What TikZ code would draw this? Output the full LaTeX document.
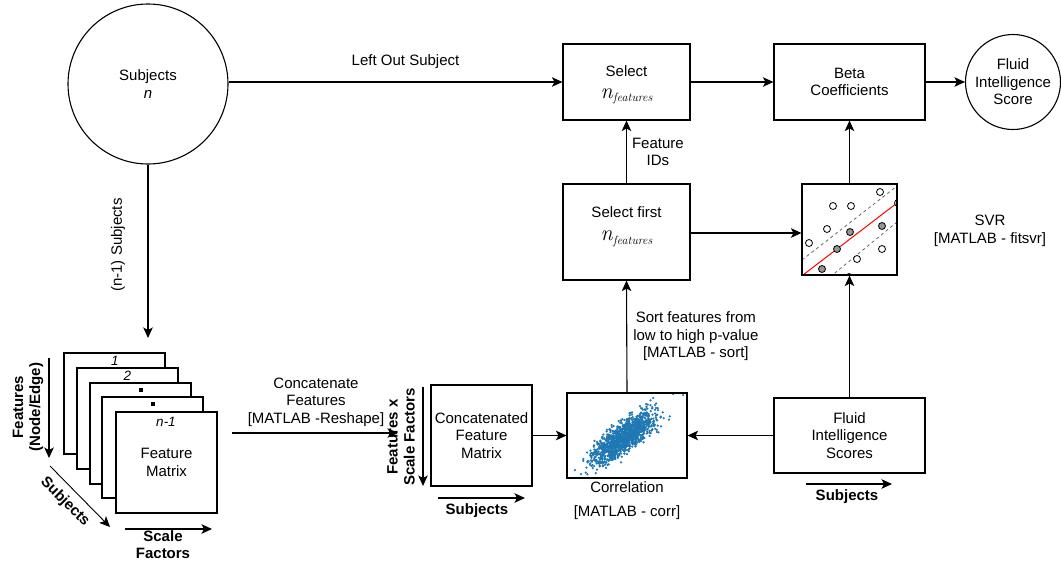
\documentclass[tikz,border=0pt]{standalone}
\usepackage{fontspec}
\setmainfont{Liberation Sans}
\newfontfamily\lmrfont{Latin Modern Roman}
\usetikzlibrary{arrows.meta,calc}
\definecolor{scat}{RGB}{31,119,180}
\definecolor{dotgray}{RGB}{150,150,150}
\newcommand{\nfeat}{{\lmrfont\itshape\fontsize{22}{22}\selectfont n\kern0.5pt\raisebox{-3.5pt}{\fontsize{12}{12}\selectfont features}}}
\begin{document}
\begin{tikzpicture}[x=1pt,y=-1pt,
  font=\fontsize{15}{17.5}\selectfont,
  line width=1.1pt,
  box/.style={draw, rectangle, inner sep=0pt, align=center},
  lbl/.style={align=center, inner sep=0pt},
  blbl/.style={align=center, inner sep=0pt, font=\fontsize{15}{17}\selectfont\bfseries},
  arr/.style={-{Stealth[length=10.5pt,width=9.5pt,inset=2.5pt]}},
  svrdot/.style={draw, line width=0.8pt, fill=#1},
]
\useasboundingbox (0,0) rectangle (1061,560);

% ---- main nodes
\node[draw, circle, minimum size=160pt, inner sep=0pt, align=center] (subj) at (148,84) {Subjects\\\textit{n}};
\node[box, minimum width=127pt, minimum height=76pt] (sel) at (626.5,82) {};
\node[lbl] (seltxt) at (626.5,85) {Select\\[4pt]\nfeat};
\node[box, minimum width=151pt, minimum height=76pt] (beta) at (849.5,82) {Beta\\Coefficients};
\node[draw, circle, minimum size=95pt, inner sep=0pt, align=center] (fis2) at (1013,82) {Fluid\\Intelligence\\Score};
\node[box, minimum width=127pt, minimum height=96pt] (selfirst) at (626.5,232) {};
\node[lbl] (selfirsttxt) at (626.5,226.5) {Select first\\[6pt]\nfeat};
\node[box, minimum width=95pt, minimum height=91pt] (svr) at (849.5,229.5) {};
\node[box, minimum width=120pt, minimum height=85pt] (corr) at (627,435.5) {};
\node[box, minimum width=151pt, minimum height=75pt] (fis) at (849.5,435.5) {Fluid\\Intelligence\\Scores};
\node[box, minimum width=101pt, minimum height=101pt] (concat) at (481.5,435.5) {Concatenated\\Feature\\Matrix};

% ---- stack of feature matrices
\node[box, minimum width=101pt, minimum height=101pt, fill=white] (m1) at (114.5,403.5) {};
\node[box, minimum width=101pt, minimum height=101pt, fill=white] (m2) at (127.5,418.5) {};
\node[box, minimum width=101pt, minimum height=101pt, fill=white] (m3) at (140.5,433.5) {};
\node[box, minimum width=101pt, minimum height=101pt, fill=white] (m4) at (152.5,447.5) {};
\node[box, minimum width=101pt, minimum height=101pt, fill=white] (m5) at (166.5,462.5) {Feature\\Matrix};
\node[lbl, font=\fontsize{13.5}{15}\selectfont\itshape] (l1) at (115,361) {1};
\node[lbl, font=\fontsize{13.5}{15}\selectfont\itshape] (l2) at (127.5,376) {2};
\fill (138.5,388) rectangle (142.5,392);
\fill (150.5,402) rectangle (154.5,406);
\node[lbl, font=\fontsize{13.5}{15}\selectfont\itshape] (l5) at (166,422) {n-1};

% ---- SVR plot
\begin{scope}
  \clip (svr.south west) rectangle (svr.north east);
  \draw[gray!80!black, line width=0.8pt, dashed] (802,260) -- (897,186);
  \draw[gray!80!black, line width=0.8pt, dashed] (830,277) -- (897,222);
  \draw[red, line width=1pt] (803,275) -- (897,203);
  \foreach \p in {(880,192),(833,206),(851,206),(827,229),(809,243),(882,249),(857,259),(849,277),(898,203)}
    \draw[svrdot=white] \p circle (3.5pt);
  \foreach \p in {(850,232),(882,226),(837,249),(822,269)}
    \draw[svrdot=dotgray] \p circle (3.5pt);
\end{scope}
\node[box, minimum width=95pt, minimum height=91pt] at (svr) {};

% ---- correlation scatter
\begin{scope}
  \clip (corr.south west) rectangle (corr.north east);
  \pgfmathsetseed{42}
  \foreach \i in {1,...,1300}{
    \pgfmathsetmacro\tt{19*(rand+rand+rand)}
    \pgfmathsetmacro\ss{6.5*(rand+rand+rand)}
    \fill[scat] ({624+0.79*\tt+0.62*\ss},{437-0.62*\tt+0.79*\ss}) circle (1.25pt);
  }
  \fill[scat] (683,395) circle (1.25pt);
  \fill[scat] (673,394) circle (1.25pt);
  \fill[scat] (575,470) circle (1.25pt);
  \fill[scat] (581,474) circle (1.25pt);
\end{scope}
\node[box, minimum width=120pt, minimum height=85pt] at (corr) {};

% ---- text labels
\node[lbl] (svrlbl) at (990,231) {SVR\\{}[MATLAB - fitsvr]};
\node[lbl, anchor=north] (corrlbl) at ([yshift=-3pt]corr.south) {Correlation\\[6pt]{}[MATLAB - corr]};
\node[lbl] (catlbl) at (316,402) {Concatenate\\Features\\{}[MATLAB -Reshape]};
\node[lbl, rotate=90] (nm1) at (118,245) {(n-1) Subjects};
\node[blbl, rotate=90] (featlbl) at (28,407) {Features\\(Node/Edge)};
\node[blbl, rotate=-45] (subjdiag) at (65,502) {Subjects};
\node[blbl] (scalelbl) at (163,545) {Scale\\Factors};
\node[blbl, rotate=90] (fxs) at (401,437) {Features x\\Scale Factors};
\node[blbl] (subjc) at (477,511) {Subjects};
\node[blbl] (subjf) at (847,497) {Subjects};

% ---- free-end coordinates
\coordinate (stacktop) at (148,338);
\coordinate (catA) at (232,433);
\coordinate (catB) at (398,433);
\coordinate (fA) at (49,358);
\coordinate (fB) at (49,458);
\coordinate (dA) at (50,466);
\coordinate (dB) at (110,527);
\coordinate (sA) at (125,529);
\coordinate (sB) at (212,529);
\coordinate (cvA) at (423,387);
\coordinate (cvB) at (423,486);
\coordinate (chA) at (438,498);
\coordinate (chB) at (525,498);
\coordinate (fhA) at (806,484);
\coordinate (fhB) at (892,484);

% ---- connectors
\draw[arr] (subj.east |- sel.west) -- node[above=13pt, pos=0.53, inner sep=0pt] {Left Out Subject} (sel.west);
\draw[arr] (sel.east) -- (beta.west);
\draw[arr] (beta.east) -- (fis2.west);
\draw[arr] (selfirst.north) -- node[right=5pt, lbl] {Feature\\IDs} (sel.south);
\draw[arr] (selfirst.east |- 0,233) -- (svr.west |- 0,233);
\draw[arr] (svr.north) -- (beta.south);
\draw[arr] (fis.north) -- (svr.south);
\draw[arr] (fis.west) -- (corr.east);
\draw[arr] (concat.east) -- (corr.west);
\draw[arr] (corr.north) -- node[right=6pt, lbl] {Sort features from\\low to high p-value\\{}[MATLAB - sort]} (selfirst.south);
\draw[arr] (subj.south) -- (stacktop);
\draw[arr] (catA) -- (catB);
\draw[arr] (fA) -- (fB);
\draw[arr, line width=0.9pt] (dA) -- (dB);
\draw[arr] (sA) -- (sB);
\draw[arr] (cvA) -- (cvB);
\draw[arr] (chA) -- (chB);
\draw[arr] (fhA) -- (fhB);
\end{tikzpicture}
\end{document}
